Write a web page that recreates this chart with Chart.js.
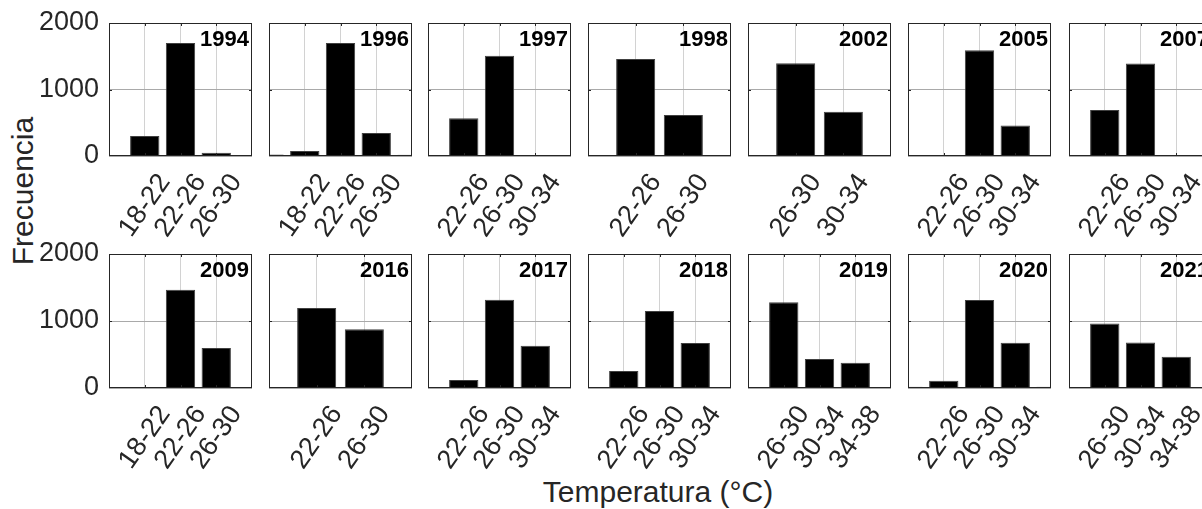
<!DOCTYPE html>
<html>
<head>
<meta charset="utf-8">
<script src="https://cdn.jsdelivr.net/npm/chart.js@4.4.1/dist/chart.umd.min.js"></script>
<style>
  html, body { margin: 0; padding: 0; background: #fff; overflow: hidden; }
  #fig { position: relative; width: 1202px; height: 509px; overflow: hidden; background: #fff; }
  .panel { position: absolute; }
  .axis-title {
    position: absolute;
    font-family: "Liberation Sans", Arial, sans-serif;
    font-size: 30px;
    line-height: 30px;
    color: #262626;
    white-space: nowrap;
  }
  #ylab { left: 23px; top: 191px; transform: translate(-50%, -50%) rotate(-90deg); }
  #xlab { left: 658px; top: 477px; transform: translateX(-50%); }
</style>
</head>
<body>
<div id="fig">
  <div class="axis-title" id="ylab">Frecuencia</div>
  <div class="axis-title" id="xlab">Temperatura (°C)</div>
</div>
<script>
// Years shown, one small histogram each (two rows of seven)
const years = [1994, 1996, 1997, 1998, 2002, 2005, 2007,
               2009, 2016, 2017, 2018, 2019, 2020, 2021];

// Temperature bins (°C) labelled under each histogram
const binLabels = [
  ['18-22', '22-26', '26-30'],
  ['18-22', '22-26', '26-30'],
  ['22-26', '26-30', '30-34'],
  ['22-26', '26-30'],
  ['26-30', '30-34'],
  ['22-26', '26-30', '30-34'],
  ['22-26', '26-30', '30-34'],
  ['18-22', '22-26', '26-30'],
  ['22-26', '26-30'],
  ['22-26', '26-30', '30-34'],
  ['22-26', '26-30', '30-34'],
  ['26-30', '30-34', '34-38'],
  ['22-26', '26-30', '30-34'],
  ['26-30', '30-34', '34-38']
];

// Frequency in each labelled bin
const counts = [
  [300, 1700, 50],
  [75, 1700, 345],
  [567, 1508, 5],
  [1459, 617],
  [1394, 666],
  [8, 1590, 460],
  [690, 1390, 5],
  [12, 1467, 597],
  [1194, 876],
  [119, 1318, 631],
  [254, 1149, 672],
  [1279, 433, 378],
  [109, 1313, 676],
  [963, 680, 468]
];

// Frequency in the unlabelled bins just outside each side of the range
const edgeCounts = [
  [8, 8], [22, 18], [10, 8], [8, 8], [8, 8], [5, 8], [8, 5],
  [8, 8], [8, 8], [8, 8], [8, 8], [8, 8], [20, 20], [15, 15]
];

// Frequency axis
const yTicks = [0, 1000, 2000];

// ---- layout of the grid of axes ----
const colLeft = [109, 269, 428, 588, 748, 908, 1069];
const rowTop = [23, 254];
const rowHeight = [133, 134];
const plotW = 143;
const padTop = 32, padRight = 45, xAxisH = 90;
const fontFamily = '"Liberation Sans", Arial, sans-serif';
const ink = '#262626';

// Axes box, inward tick marks and the year tag
const framePlugin = {
  id: 'frame',
  afterDraw(chart, args, opts) {
    const { ctx, chartArea: a, scales } = chart;
    ctx.save();
    ctx.strokeStyle = ink;
    ctx.lineWidth = 1;
    ctx.beginPath();
    const xs = scales.x, ys = scales.y;
    xs.ticks.forEach((t, k) => {
      if (k === 0 || k === xs.ticks.length - 1) return;
      const px = Math.round(xs.getPixelForTick(k)) + 0.5;
      ctx.moveTo(px, a.bottom); ctx.lineTo(px, a.bottom - 3);
      ctx.moveTo(px, a.top); ctx.lineTo(px, a.top + 3);
    });
    ys.ticks.forEach((t) => {
      if (t.value === ys.min || t.value === ys.max) return;
      const py = Math.round(ys.getPixelForValue(t.value)) + 0.5;
      ctx.moveTo(a.left, py); ctx.lineTo(a.left + 3, py);
      ctx.moveTo(a.right, py); ctx.lineTo(a.right - 3, py);
    });
    ctx.stroke();
    ctx.strokeRect(a.left + 0.5, a.top + 0.5, a.right - a.left - 1, a.bottom - a.top - 1);

    ctx.font = 'bold 22px ' + fontFamily;
    ctx.fillStyle = '#000';
    ctx.textAlign = 'right';
    ctx.textBaseline = 'alphabetic';
    ctx.fillText(opts.text, a.right - 3, a.top + 23);
    ctx.restore();
  }
};

const fig = document.getElementById('fig');

years.forEach((year, i) => {
  const r = Math.floor(i / 7), c = i % 7;
  const yW = c === 0 ? 100 : 20;
  const w = yW + plotW + padRight;
  const h = padTop + rowHeight[r] + xAxisH;

  const holder = document.createElement('div');
  holder.className = 'panel';
  holder.style.left = (colLeft[c] - yW) + 'px';
  holder.style.top = (rowTop[r] - padTop) + 'px';
  holder.style.width = w + 'px';
  holder.style.height = h + 'px';
  const canvas = document.createElement('canvas');
  canvas.width = w; canvas.height = h;
  canvas.style.width = w + 'px'; canvas.style.height = h + 'px';
  holder.appendChild(canvas);
  fig.appendChild(holder);

  const labels = ['', ...binLabels[i], ''];
  const values = [edgeCounts[i][0], ...counts[i], edgeCounts[i][1]];
  const last = labels.length - 1;

  new Chart(canvas, {
    type: 'bar',
    data: {
      labels: labels,
      datasets: [{
        data: values,
        backgroundColor: '#000',
        borderColor: '#404040',
        borderWidth: 1,
        barPercentage: 0.82,
        categoryPercentage: 1,
        clip: 0
      }]
    },
    options: {
      responsive: false,
      animation: false,
      events: [],
      devicePixelRatio: 1,
      layout: { padding: { top: padTop, right: padRight, left: 0, bottom: 0 } },
      plugins: {
        legend: { display: false },
        tooltip: { enabled: false },
        frame: { text: String(year) }
      },
      scales: {
        x: {
          type: 'category',
          offset: false,
          border: { display: false },
          grid: {
            offset: false,
            drawTicks: false,
            lineWidth: 1,
            color: (ctx) => (ctx.index === 0 || ctx.index === last) ? 'rgba(0,0,0,0)' : '#d2d2d2'
          },
          ticks: {
            autoSkip: false,
            minRotation: 55,
            maxRotation: 55,
            padding: 12,
            labelOffset: 20,
            color: ink,
            font: { family: fontFamily, size: 27 }
          },
          afterFit: (s) => { s.height = xAxisH; }
        },
        y: {
          min: yTicks[0],
          max: yTicks[yTicks.length - 1],
          border: { display: false },
          grid: { drawTicks: false, color: '#a9a9a9', lineWidth: 1 },
          afterBuildTicks: (s) => { s.ticks = yTicks.map(v => ({ value: v })); },
          ticks: {
            display: c === 0,
            padding: 10,
            color: ink,
            font: { family: fontFamily, size: 27 },
            callback: (v) => String(v)
          },
          afterFit: (s) => { s.width = yW; }
        }
      }
    },
    plugins: [framePlugin]
  });
});
</script>
</body>
</html>
